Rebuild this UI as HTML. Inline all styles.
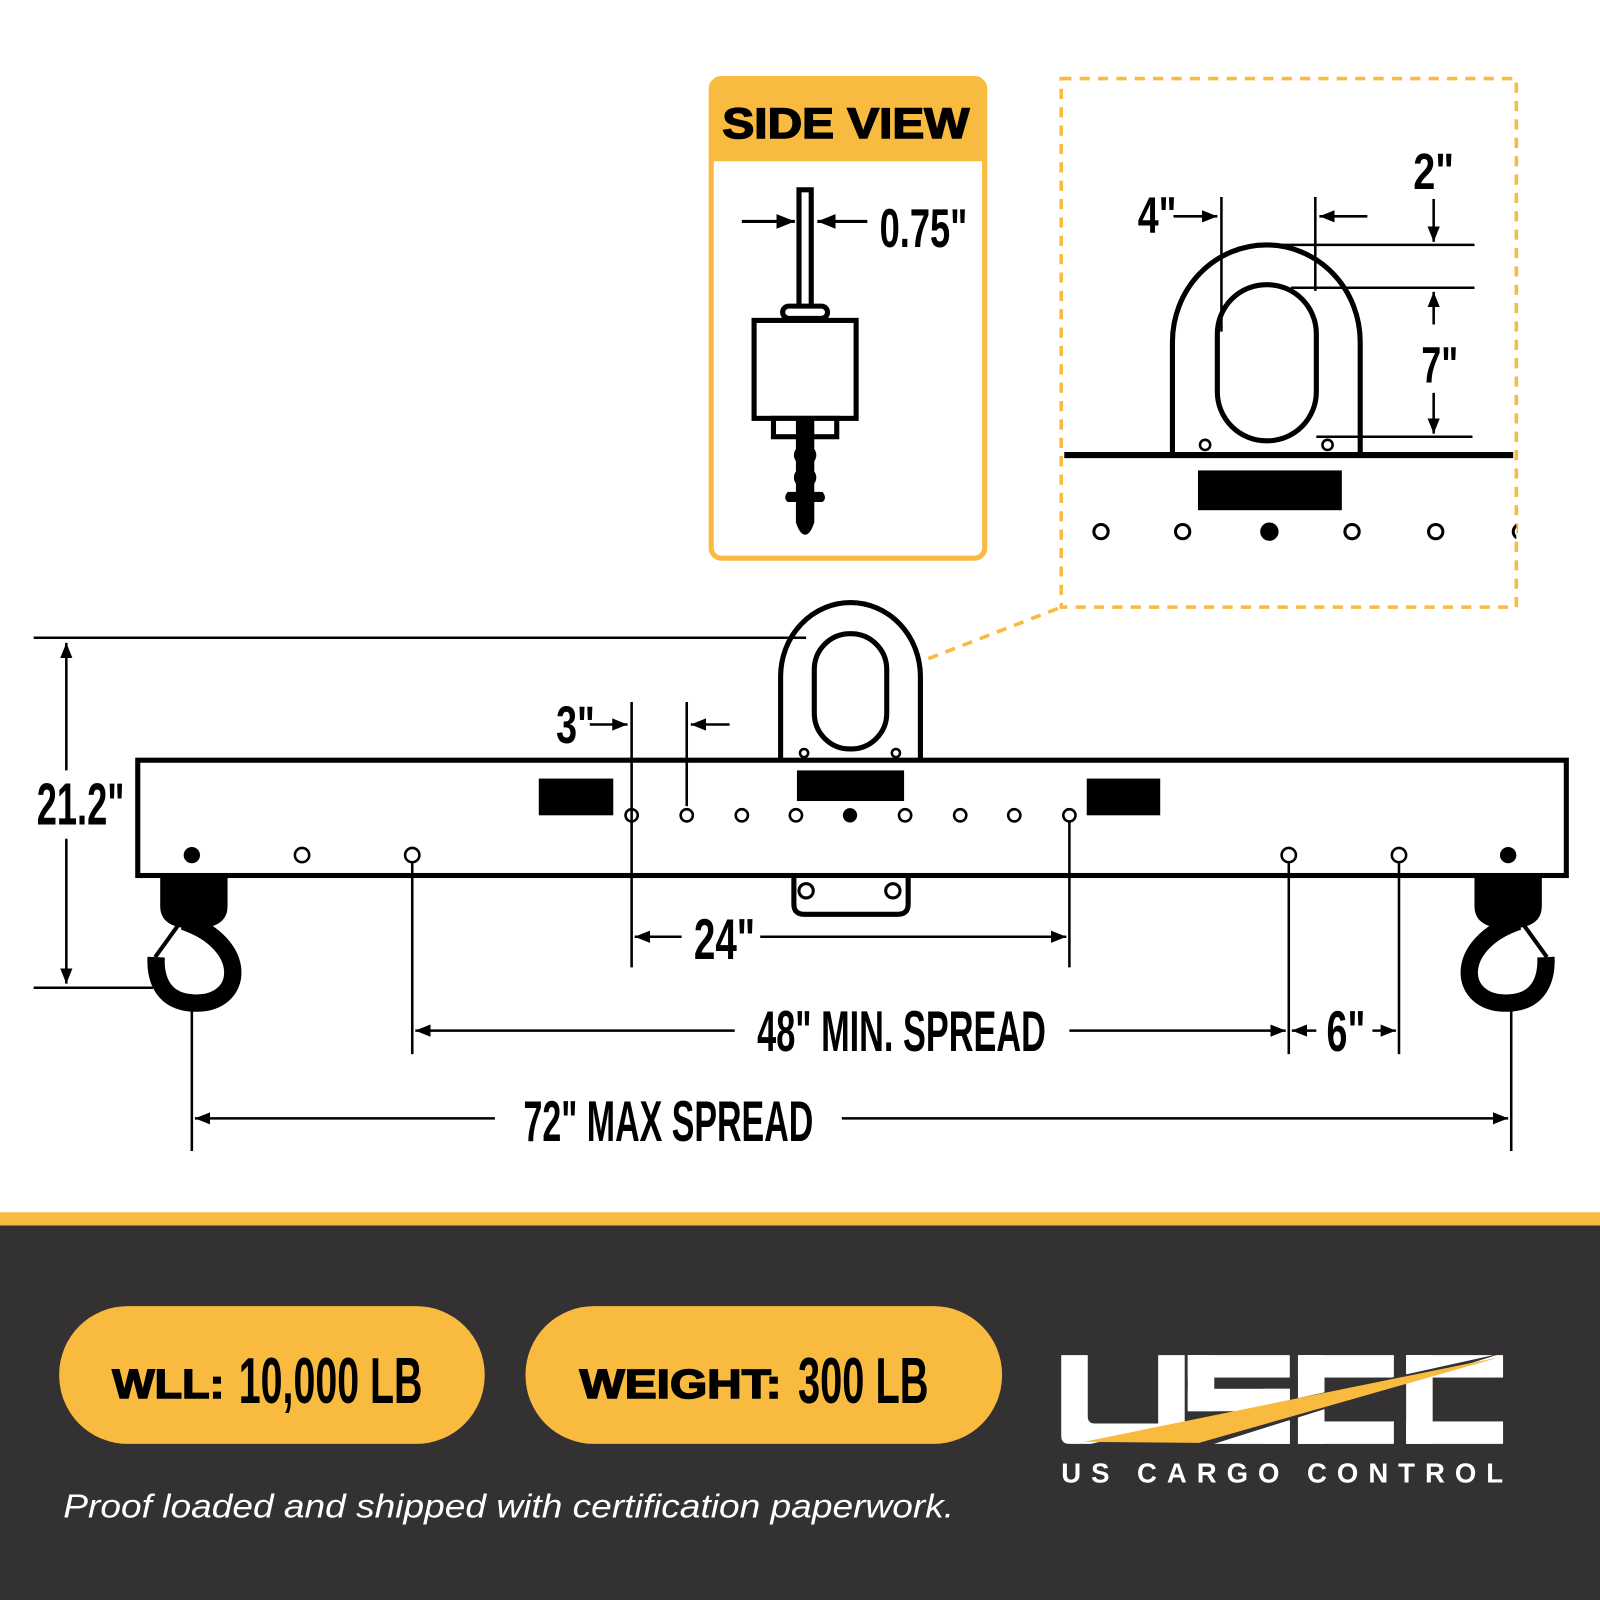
<!DOCTYPE html>
<html><head><meta charset="utf-8"><style>
html,body{margin:0;padding:0;background:#fff;}
svg{display:block;}
.n{font-family:"Liberation Sans Narrow","Liberation Sans",sans-serif;font-weight:bold;}
.h{font-family:"Liberation Sans",sans-serif;font-weight:900;}
</style></head><body>
<svg width="1600" height="1600" viewBox="0 0 1568 1568" xmlns="http://www.w3.org/2000/svg">
<defs>
<marker id="a" viewBox="0 0 10 10" refX="10" refY="5" markerWidth="6" markerHeight="6" orient="auto-start-reverse" markerUnits="strokeWidth"><path d="M0,1 L10,5 L0,9 z" fill="#000"/></marker>
<clipPath id="cp"><rect x="1040" y="77" width="446" height="518"/></clipPath>
</defs>
<rect x="0" y="0" width="1568" height="1568" fill="#fff"/>
<rect x="0" y="1188" width="1568" height="13" fill="#f9bb3f"/>
<rect x="0" y="1201" width="1568" height="367" fill="#333132"/>
<rect x="58" y="1280" width="417" height="135" rx="67" fill="#f9bb3f"/>
<rect x="515" y="1280" width="467" height="135" rx="67" fill="#f9bb3f"/>
<text x="110" y="1370" class="h" font-size="40" textLength="110" lengthAdjust="spacingAndGlyphs" stroke="#000" stroke-width="1.5">WLL:</text>
<text x="234" y="1375" class="n" font-size="64" textLength="180" lengthAdjust="spacingAndGlyphs">10,000 LB</text>
<text x="568" y="1370" class="h" font-size="40" textLength="198" lengthAdjust="spacingAndGlyphs" stroke="#000" stroke-width="1.5">WEIGHT:</text>
<text x="782" y="1375" class="n" font-size="64" textLength="128" lengthAdjust="spacingAndGlyphs">300 LB</text>
<text x="62" y="1487" font-family="Liberation Sans,sans-serif" font-style="italic" font-size="33" fill="#fff" textLength="873" lengthAdjust="spacingAndGlyphs">Proof loaded and shipped with certification paperwork.</text>
<g fill="#fff">
<path d="M1040,1328 h26 v60 q0,7 7,7 h62 v-67 h26 v87 h-113 q-8,0 -8,-8 z"/>
<rect x="1164" y="1328" width="100" height="22"/><rect x="1164" y="1328" width="26" height="55"/>
<rect x="1164" y="1361" width="100" height="22"/><rect x="1238" y="1361" width="26" height="54"/><rect x="1164" y="1393" width="100" height="22"/>
<rect x="1272" y="1328" width="94" height="22"/><rect x="1272" y="1328" width="26" height="87"/><rect x="1272" y="1393" width="94" height="22"/>
<rect x="1378" y="1328" width="95" height="22"/><rect x="1378" y="1328" width="26" height="87"/><rect x="1378" y="1393" width="95" height="22"/>
</g>
<path d="M1055,1418 L1473,1326 L1180,1418 z" fill="#333132"/>
<path d="M1062,1413 L1470,1330 L1175,1414 z" fill="#f9bb3f"/>
<text x="1040" y="1453" font-family="Liberation Sans,sans-serif" font-weight="bold" font-size="27" fill="#fff" textLength="433" lengthAdjust="spacing">US CARGO CONTROL</text>

<rect x="697" y="77" width="268" height="470" rx="10" fill="#fff" stroke="#f9bb3f" stroke-width="5"/>
<path d="M697,158 V87 q0,-10 10,-10 h248 q10,0 10,10 v71 z" fill="#f9bb3f"/>
<text x="708" y="135" class="h" font-size="42" textLength="242" lengthAdjust="spacingAndGlyphs" stroke="#000" stroke-width="1.5">SIDE VIEW</text>
<rect x="783" y="186" width="12" height="120" fill="#fff" stroke="#000" stroke-width="5"/>
<rect x="767" y="300" width="44" height="12" rx="6" fill="#fff" stroke="#000" stroke-width="5"/>
<rect x="739" y="314" width="100" height="96" fill="#fff" stroke="#000" stroke-width="5"/>
<rect x="758" y="410" width="62" height="18" fill="#fff" stroke="#000" stroke-width="5"/>
<path d="M780,410 h18 v30 q4,6 0,12 v10 q4,6 0,12 v8 h8 q5,6 0,10 h-8 v20 q-4,12 -9,12 q-5,0 -9,-12 v-20 h-8 q-5,-4 0,-10 h8 v-8 q-4,-6 0,-12 v-10 q-4,-6 0,-12 z" fill="#000"/>
<line x1="727" y1="217" x2="779" y2="217" stroke="#000" stroke-width="3" marker-end="url(#a)"/>
<line x1="850" y1="217" x2="801" y2="217" stroke="#000" stroke-width="3" marker-end="url(#a)"/>
<text x="862" y="242" class="n" font-size="54" textLength="86" lengthAdjust="spacingAndGlyphs">0.75"</text>

<rect x="1040" y="77" width="446" height="518" fill="none" stroke="#f9bb3f" stroke-width="3.5" stroke-dasharray="10,8"/>
<line x1="893" y1="652" x2="1040" y2="595" stroke="#f9bb3f" stroke-width="3.5" stroke-dasharray="10,8"/>
<path d="M1149,443 V335 A92,95 0 0 1 1333,335 V443" fill="none" stroke="#000" stroke-width="5"/>
<rect x="1193" y="279" width="97" height="153" rx="48" fill="none" stroke="#000" stroke-width="5"/>
<line x1="1043" y1="446" x2="1483" y2="446" stroke="#000" stroke-width="6"/>
<circle cx="1181" cy="436" r="5" fill="#fff" stroke="#000" stroke-width="2.5"/>
<circle cx="1301" cy="436" r="5" fill="#fff" stroke="#000" stroke-width="2.5"/>
<rect x="1174" y="461" width="141" height="39" fill="#000"/>
<g fill="#fff" stroke="#000" stroke-width="3" clip-path="url(#cp)"><circle cx="1079" cy="521" r="7"/><circle cx="1159" cy="521" r="7"/><circle cx="1325" cy="521" r="7"/><circle cx="1407" cy="521" r="7"/><circle cx="1490" cy="521" r="7"/></g>
<circle cx="1244" cy="521" r="9" fill="#000"/>
<g stroke="#000" stroke-width="2.5">
<line x1="1197" y1="193" x2="1197" y2="325"/><line x1="1289" y1="193" x2="1289" y2="285"/>
<line x1="1240" y1="240" x2="1445" y2="240"/><line x1="1265" y1="282" x2="1445" y2="282"/><line x1="1290" y1="428" x2="1443" y2="428"/>
<line x1="1150" y1="212" x2="1193" y2="212" marker-end="url(#a)"/>
<line x1="1340" y1="212" x2="1293" y2="212" marker-end="url(#a)"/>
<line x1="1405" y1="195" x2="1405" y2="237" marker-end="url(#a)"/>
<line x1="1405" y1="318" x2="1405" y2="286" marker-end="url(#a)"/>
<line x1="1405" y1="385" x2="1405" y2="425" marker-end="url(#a)"/>
</g>
<text x="1115" y="228" class="n" font-size="50" textLength="38" lengthAdjust="spacingAndGlyphs">4"</text>
<text x="1385" y="185" class="n" font-size="50" textLength="40" lengthAdjust="spacingAndGlyphs">2"</text>
<text x="1393" y="375" class="n" font-size="50" textLength="36" lengthAdjust="spacingAndGlyphs">7"</text>

<path d="M765,745 V663 A68,72 0 0 1 902,663 V745" fill="#fff" stroke="#000" stroke-width="5"/>
<rect x="798" y="621" width="71" height="113" rx="35" fill="none" stroke="#000" stroke-width="5"/>
<circle cx="788" cy="738" r="4" fill="#fff" stroke="#000" stroke-width="2.5"/>
<circle cx="878" cy="738" r="4" fill="#fff" stroke="#000" stroke-width="2.5"/>
<path d="M778,858 V886 q0,10 10,10 h92 q10,0 10,-10 V858" fill="#fff" stroke="#000" stroke-width="5"/>
<circle cx="790" cy="873" r="7" fill="#fff" stroke="#000" stroke-width="3"/>
<circle cx="875" cy="873" r="7" fill="#fff" stroke="#000" stroke-width="3"/>
<rect x="135" y="745" width="1400" height="113" fill="none" stroke="#000" stroke-width="5"/>
<rect x="528" y="763" width="73" height="36" fill="#000"/>
<rect x="781" y="755" width="105" height="30" fill="#000"/>
<rect x="1065" y="763" width="72" height="36" fill="#000"/>
<g fill="#fff" stroke="#000" stroke-width="2.5"><circle cx="619" cy="799" r="6"/><circle cx="673" cy="799" r="6"/><circle cx="727" cy="799" r="6"/><circle cx="780" cy="799" r="6"/><circle cx="887" cy="799" r="6"/><circle cx="941" cy="799" r="6"/><circle cx="994" cy="799" r="6"/><circle cx="1048" cy="799" r="6"/>
<circle cx="296" cy="838" r="7"/><circle cx="404" cy="838" r="7"/><circle cx="1263" cy="838" r="7"/><circle cx="1371" cy="838" r="7"/></g>
<circle cx="833" cy="799" r="7" fill="#000"/>
<circle cx="188" cy="838" r="8" fill="#000"/><circle cx="1478" cy="838" r="8" fill="#000"/>
<g id="hk">
<path d="M157,858 h66 v30 q0,22 -33,22 q-33,0 -33,-22 z" fill="#000"/>
<path d="M180,903 C245,925 240,985 190,983 C160,982 152,960 153,938" fill="none" stroke="#000" stroke-width="17"/>
<line x1="152" y1="938" x2="178" y2="902" stroke="#000" stroke-width="4"/>
</g>
<use href="#hk" transform="translate(1668,0) scale(-1,1)"/>
<g stroke="#000" stroke-width="2.5">
<line x1="33" y1="625" x2="790" y2="625"/><line x1="33" y1="968" x2="150" y2="968"/>
<line x1="65" y1="755" x2="65" y2="630" marker-end="url(#a)"/><line x1="65" y1="822" x2="65" y2="964" marker-end="url(#a)"/>
<line x1="619" y1="688" x2="619" y2="948"/><line x1="673" y1="688" x2="673" y2="790"/><line x1="1048" y1="806" x2="1048" y2="948"/>
<line x1="578" y1="710" x2="615" y2="710" marker-end="url(#a)"/><line x1="715" y1="710" x2="677" y2="710" marker-end="url(#a)"/>
<line x1="668" y1="918" x2="622" y2="918" marker-end="url(#a)"/><line x1="745" y1="918" x2="1045" y2="918" marker-end="url(#a)"/>
<line x1="404" y1="846" x2="404" y2="1033"/><line x1="1263" y1="846" x2="1263" y2="1033"/><line x1="1371" y1="846" x2="1371" y2="1033"/>
<line x1="720" y1="1010" x2="407" y2="1010" marker-end="url(#a)"/><line x1="1048" y1="1010" x2="1260" y2="1010" marker-end="url(#a)"/>
<line x1="1290" y1="1010" x2="1266" y2="1010" marker-end="url(#a)"/><line x1="1345" y1="1010" x2="1368" y2="1010" marker-end="url(#a)"/>
<line x1="188" y1="990" x2="188" y2="1128"/><line x1="1481" y1="990" x2="1481" y2="1128"/>
<line x1="485" y1="1096" x2="191" y2="1096" marker-end="url(#a)"/><line x1="825" y1="1096" x2="1478" y2="1096" marker-end="url(#a)"/>
</g>
<text x="36" y="808" class="n" font-size="58" textLength="86" lengthAdjust="spacingAndGlyphs">21.2"</text>
<text x="545" y="728" class="n" font-size="52" textLength="38" lengthAdjust="spacingAndGlyphs">3"</text>
<text x="680" y="940" class="n" font-size="56" textLength="60" lengthAdjust="spacingAndGlyphs">24"</text>
<text x="742" y="1030" class="n" font-size="56" textLength="283" lengthAdjust="spacingAndGlyphs">48" MIN. SPREAD</text>
<text x="1300" y="1030" class="n" font-size="56" textLength="38" lengthAdjust="spacingAndGlyphs">6"</text>
<text x="513" y="1118" class="n" font-size="56" textLength="284" lengthAdjust="spacingAndGlyphs">72" MAX SPREAD</text>
</svg>
</body></html>
